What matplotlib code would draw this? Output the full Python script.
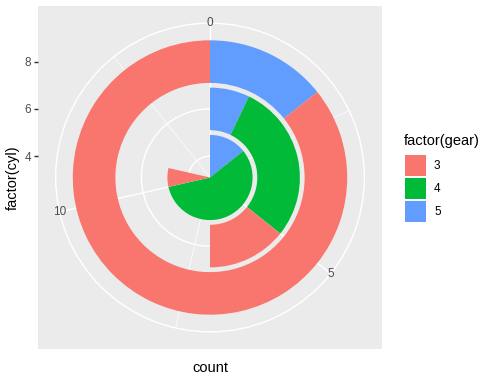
import matplotlib

matplotlib.use("Agg")

import matplotlib.pyplot as plt
import numpy as np
from matplotlib.patches import Rectangle

plt.rcParams["font.family"] = ["Liberation Sans", "DejaVu Sans"]

# ---------------------------------------------------------------------------
# Data: mtcars counts, rows = cyl (4, 6, 8)
# ---------------------------------------------------------------------------
cyl_levels = ["4", "6", "8"]
gear_levels = ["3", "4", "5"]
counts_gear3 = [1, 2, 12]
counts_gear4 = [8, 4, 0]
counts_gear5 = [2, 1, 2]
gear_colors = ["#F8766D", "#00BA38", "#619CFF"]
theta_breaks = [0, 5, 10]
theta_minor = [2.5, 7.5, 12.5]

# ---------------------------------------------------------------------------
# Layout (pixel based, 96 dpi like the R device)
# ---------------------------------------------------------------------------
W, H, DPI = 481, 379, 96
fig = plt.figure(figsize=(W / DPI, H / DPI), dpi=DPI)


def px_box(x0, y0, x1, y1):
    return [x0 / W, 1 - y1 / H, (x1 - x0) / W, (y1 - y0) / H]


PX0, PY0, PX1, PY1 = 38, 6, 382, 349
cx, cy = (PX0 + PX1) / 2, (PY0 + PY1) / 2
pw = min(PX1 - PX0, PY1 - PY0)

counts = np.array([counts_gear3, counts_gear4, counts_gear5])  # gear x cyl
theta_max = counts.sum(axis=0).max()
k = 2 * np.pi / theta_max

r_pos = np.arange(1, len(cyl_levels) + 1)
bar_w = 0.9
r_lo, r_hi = r_pos[0] - bar_w / 2, r_pos[-1] + bar_w / 2
r_outer = r_lo + (r_hi - r_lo) * 0.45 / 0.4
unit = 0.4 * pw / (r_hi - r_lo)  # px per r unit

# panel background + radial axis (left)
ax_bg = fig.add_axes(px_box(PX0, PY0, PX1, PY1))
ax_bg.set_facecolor("#EBEBEB")
for s in ax_bg.spines.values():
    s.set_visible(False)
ax_bg.set_xticks([])
ax_bg.set_ylim(r_lo - (PY1 - cy) / unit, r_lo + (cy - PY0) / unit)
ax_bg.set_yticks(r_pos)
ax_bg.set_yticklabels(cyl_levels)
ax_bg.tick_params(axis="y", length=2.75, width=1.07, color="#333333", pad=2.2,
                  labelsize=8.8, labelcolor="#4D4D4D")

# polar panel
R = 0.45 * pw
ax = fig.add_axes(px_box(cx - R, cy - R, cx + R, cy + R), projection="polar")
ax.set_facecolor("none")
ax.set_theta_zero_location("N")
ax.set_theta_direction(-1)
ax.set_ylim(r_lo, r_outer)
ax.set_axisbelow(True)

left = np.zeros(len(cyl_levels))
for gi in [2, 1, 0]:  # stack 5, 4, 3 outward from 0
    ax.bar(left * k, bar_w, width=counts[gi] * k, bottom=r_pos - bar_w / 2,
           align="edge", color=gear_colors[gi], linewidth=0)
    left += counts[gi]

ax.set_xticks(np.array(theta_breaks) * k)
ax.set_xticks(np.array(theta_minor) * k, minor=True)
ax.set_xticklabels([])
ax.set_yticks(r_pos)
ax.set_yticklabels([])
ax.tick_params(which="both", length=0)
ax.grid(True, which="major", color="white", lw=1.07)
ax.grid(True, which="minor", axis="x", color="white", lw=0.53)
ax.spines["polar"].set_color("white")
ax.spines["polar"].set_linewidth(1.07)

for b in theta_breaks:
    ax.text(b * k, r_outer, str(b), ha="center", va="center", fontsize=8.8,
            color="#4D4D4D", clip_on=False)

# axis titles
fig.text(cx / W, 1 - 368 / H, "count", ha="center", va="center", fontsize=11)
fig.text(13 / W, 1 - cy / H, "factor(cyl)", ha="center", va="center",
         rotation=90, fontsize=11)

# legend
ax_leg = fig.add_axes([0, 0, 1, 1])
ax_leg.set_xlim(0, W)
ax_leg.set_ylim(H, 0)
ax_leg.axis("off")
ax_leg.text(404, 141.5, "factor(gear)", ha="left", va="center", fontsize=11)
key = 17.28 * DPI / 72
for i, (lab, col) in enumerate(zip(gear_levels, gear_colors)):
    y0 = 154.3 + i * key
    ax_leg.add_patch(Rectangle((404 + 0.95, y0 + 0.95), key - 1.9, key - 1.9,
                               facecolor=col, edgecolor="none"))
    ax_leg.text(434, y0 + key / 2, lab, ha="left", va="center", fontsize=8.8)

fig.savefig("out.png", dpi=DPI)
